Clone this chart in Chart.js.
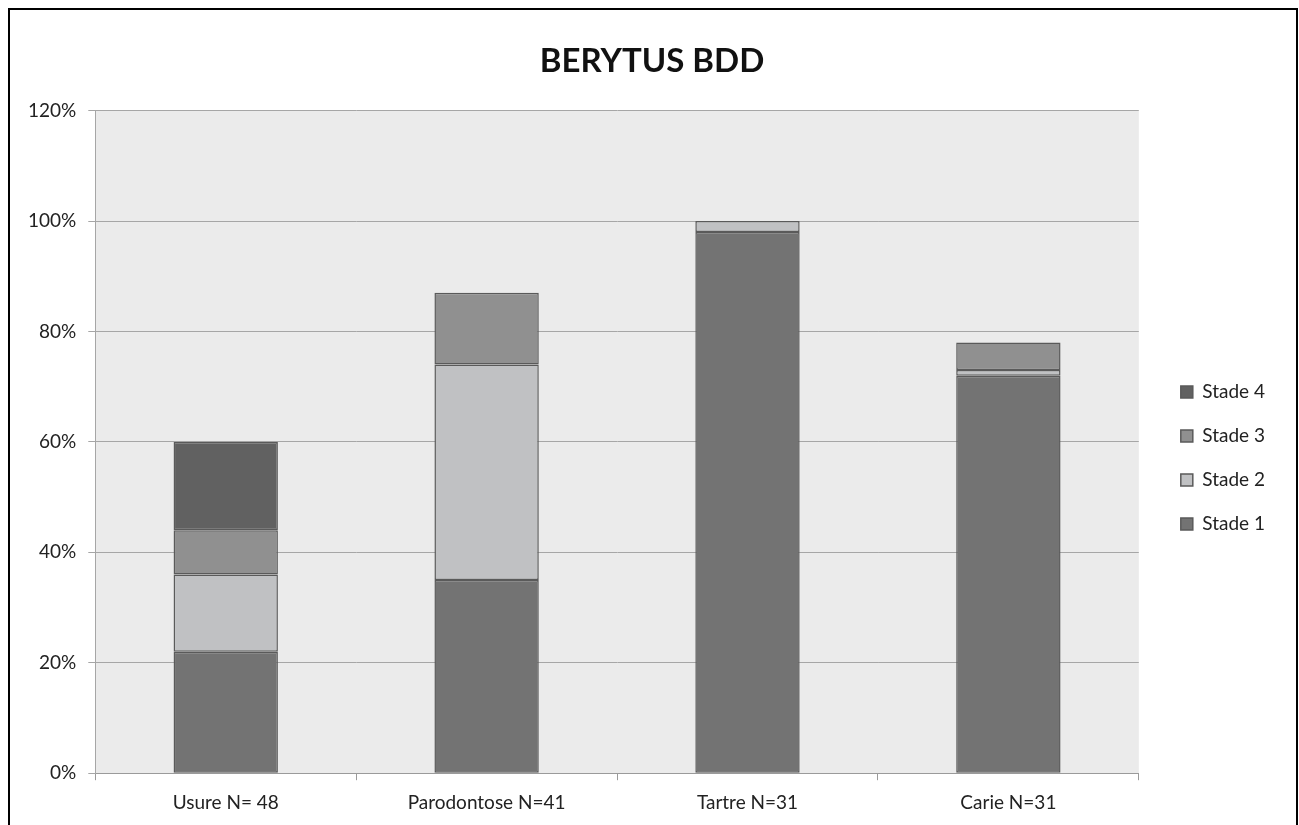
<!DOCTYPE html>
<html>
<head>
<meta charset="utf-8">
<title>BERYTUS BDD</title>
<script src="https://cdn.jsdelivr.net/npm/chart.js@4/dist/chart.umd.min.js"></script>
<style>
  html, body { margin: 0; padding: 0; background: #fff; overflow: hidden; }
  #frame {
    position: absolute; left: 8px; top: 8px;
    width: 1286px; height: 840px;
    border: 2px solid #000;
  }
  #wrap { position: absolute; left: 0; top: 0; width: 1284px; height: 815px; }
</style>
</head>
<body>
<div id="frame">
  <div id="wrap"><canvas id="chart"></canvas></div>
</div>
<script>
// Categories and stage percentages (stacked)
const categories = ['Usure N= 48', 'Parodontose N=41', 'Tartre N=31', 'Carie N=31'];
const stade1 = [22, 35, 98, 72];
const stade2 = [14, 39, 2, 1];
const stade3 = [8, 13, 0, 5];
const stade4 = [16, 0, 0, 0];
const yTicks = [0, 20, 40, 60, 80, 100, 120];

const FONT = 'Lato, "Open Sans", sans-serif';

// Grey plot area behind the bars
const plotBackground = {
    id: 'plotBackground',
    beforeDraw(chart) {
        const a = chart.chartArea;
        const ctx = chart.ctx;
        ctx.save();
        ctx.fillStyle = '#ebebeb';
        ctx.fillRect(a.left, a.top, a.right - a.left, a.bottom - a.top);
        ctx.restore();
    }
};

// Push the legend away from the plot and down, and centre the title on the canvas
const layoutNudge = {
    id: 'layoutNudge',
    afterLayout(chart) {
        const lg = chart.legend;
        lg.left += 17; lg.right += 17;
        lg.top += 16; lg.bottom += 16;
        const tb = chart.titleBlock;
        tb.left += 15; tb.right += 15;
    }
};

function makeSet(label, data, color) {
    return {
        label: label,
        data: data,
        backgroundColor: color,
        borderColor: '#5a5a5a',
        borderWidth: 1.5,
        borderSkipped: false,
        barPercentage: 0.4,
        categoryPercentage: 1.0
    };
}

new Chart(document.getElementById('chart'), {
    type: 'bar',
    data: {
        labels: categories,
        datasets: [
            makeSet('Stade 1', stade1, '#737373'),
            makeSet('Stade 2', stade2, '#c0c1c3'),
            makeSet('Stade 3', stade3, '#909090'),
            makeSet('Stade 4', stade4, '#616161')
        ]
    },
    options: {
        responsive: true,
        maintainAspectRatio: false,
        animation: false,
        layout: { padding: { left: 6, right: 36, top: 0, bottom: 0 } },
        plugins: {
            title: {
                display: true,
                text: 'BERYTUS BDD',
                color: '#111',
                font: { family: FONT, size: 33, weight: 'bold' },
                padding: { top: 32, bottom: 29 }
            },
            legend: {
                position: 'right',
                reverse: true,
                fullSize: false,
                labels: {
                    color: '#222',
                    font: { family: FONT, size: 19 },
                    boxWidth: 12,
                    boxHeight: 12,
                    padding: 25
                }
            },
            tooltip: { enabled: false }
        },
        scales: {
            x: {
                stacked: true,
                grid: {
                    offset: true,
                    drawOnChartArea: false,
                    color: '#9a9a9a',
                    tickLength: 7
                },
                border: { color: '#9a9a9a' },
                ticks: {
                    color: '#222',
                    font: { family: FONT, size: 19 },
                    padding: 11
                }
            },
            y: {
                stacked: true,
                min: 0,
                max: 120,
                afterBuildTicks(axis) {
                    axis.ticks = yTicks.map(v => ({ value: v }));
                },
                grid: { color: '#a6a6a6', tickLength: 7 },
                border: { color: '#a6a6a6' },
                ticks: {
                    color: '#222',
                    font: { family: FONT, size: 19 },
                    padding: 12,
                    callback: v => v + '%'
                }
            }
        }
    },
    plugins: [plotBackground, layoutNudge]
});
</script>
</body>
</html>
